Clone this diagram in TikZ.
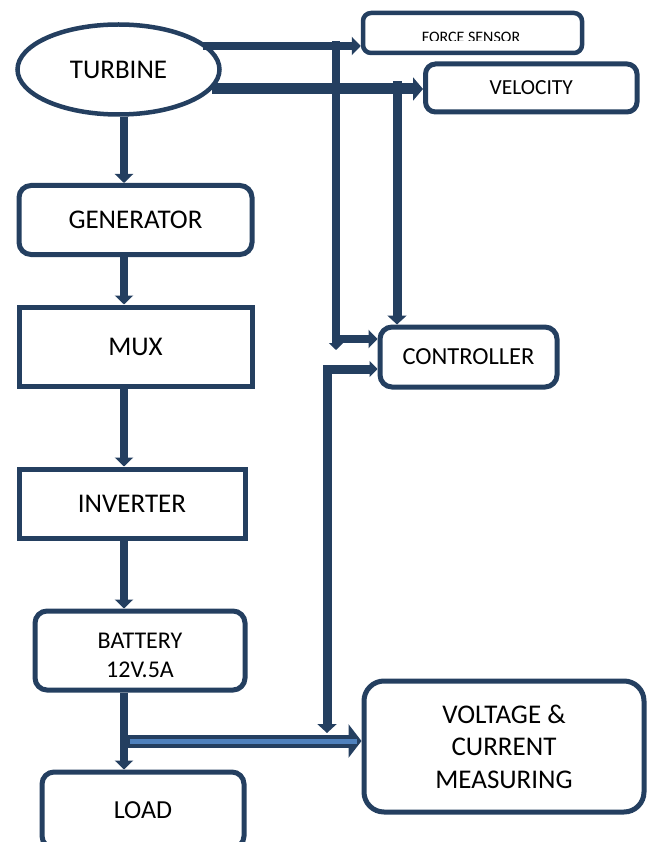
\documentclass[tikz,border=0pt]{standalone}
\usepackage{fontspec}
\setmainfont{Carlito}
\usetikzlibrary{arrows.meta,shapes.geometric}
\definecolor{navy}{HTML}{243F60}
\definecolor{lblue}{HTML}{4F81BD}
\begin{document}
\begin{tikzpicture}[x=1pt,y=-1pt,
  box/.style={draw=navy,line width=5pt,fill=white,inner sep=0pt,align=center,
    font=\fontsize{27}{31}\selectfont},
  rbox/.style={box,rounded corners=12pt},
  conn/.style={draw=navy,line width=8pt,-{Triangle[width=18pt,length=9pt]}}]
\useasboundingbox (0,0) rectangle (648,842);
\clip (0,0) rectangle (648,842);

% nodes
\node[box,ellipse,line width=4.5pt,minimum width=202pt,minimum height=90pt] (turb) at (118.5,69.5) {TURBINE};
\node[rbox,minimum width=233pt,minimum height=69pt] (gen) at (135.5,220) {GENERATOR};
\node[box,minimum width=233pt,minimum height=79pt] (mux) at (135.5,346.5) {MUX};
\node[box,minimum width=226pt,minimum height=69.5pt] (inv) at (132,503.75) {INVERTER};
\node[rbox,minimum width=210pt,minimum height=79pt] (bat) at (140,650.5) {};
\node[align=center,inner sep=0pt,font=\fontsize{24}{29}\selectfont] (battxt) at (140,655) {BATTERY\\12V.5A};
\node[rbox,minimum width=202pt,minimum height=76pt,font=\fontsize{26}{30}\selectfont] (load) at (143,810) {LOAD};
\node[rbox,rounded corners=20pt,minimum width=280pt,minimum height=131pt,font=\fontsize{27}{32.5}\selectfont] (vm) at (504,746.5) {VOLTAGE \&\\CURRENT\\MEASURING};
\node[rbox,minimum width=177pt,minimum height=60pt,font=\fontsize{24.5}{28}\selectfont] (ctrl) at (468.5,357) {CONTROLLER};
\node[rbox,rounded corners=8pt,line width=4.5pt,minimum width=219pt,minimum height=40pt] (force) at (472.5,33) {};
\node[rbox,rounded corners=10pt,minimum width=211.5pt,minimum height=48pt,font=\fontsize{21.5}{25}\selectfont] (velo) at (531.25,88) {VELOCITY};
\begin{scope}
  \clip (366,15) rectangle (580,41);
  \node[font=\fontsize{16}{18}\selectfont,anchor=base,inner sep=0pt] (forcetxt) at (471,43) {FORCE SENSOR};
\end{scope}

% main chain
\coordinate (ax) at (124,0);
\draw[conn] (turb.south -| ax) -- (gen.north -| ax);
\draw[conn] (gen.south -| ax) -- (mux.north -| ax);
\draw[conn] (mux.south -| ax) -- (inv.north -| ax);
\draw[conn] (inv.south -| ax) -- (bat.north -| ax);
\draw[conn] (bat.south -| ax) -- (load.north -| ax);

% turbine to sensors
\coordinate (fs) at (203,46);
\draw[conn] (fs) -- (fs -| force.west);
\coordinate (vs) at (212,89);
\draw[conn,line width=11pt,-{Triangle[width=23pt,length=10pt]}] (vs) -- (vs -| velo.west);

% sensor lines to controller
\coordinate (v1) at (336,41);
\coordinate (v1b) at (336,350);
\draw[conn,-{Triangle[width=14pt,length=7pt]}] (v1) -- (v1b);
\coordinate (v1c) at (336,339);
\draw[conn] (v1c) -- (v1c -| ctrl.west);
\coordinate (v2) at (397,81);
\draw[conn,line width=9pt,-{Triangle[width=19pt,length=9pt]}] (v2) -- (v2 |- ctrl.north);

% controller to measuring line
\coordinate (cc) at (327,369);
\coordinate (cd) at (327,733);
\draw[navy,line width=9pt,{Triangle[width=16pt,length=8pt]}-{Triangle[width=19pt,length=9pt]}] (cc -| ctrl.west) -- (cc) -- (cd);

% battery to measuring (double arrow)
\coordinate (dd) at (124,741);
\draw[navy,line width=13pt,-{Triangle[width=33pt,length=13pt]}] (dd) -- (dd -| vm.west);
\coordinate (db1) at (130,741);
\coordinate (db2) at (357,741);
\draw[lblue,line width=5pt] (db1) -- (db2);
\end{tikzpicture}
\end{document}
